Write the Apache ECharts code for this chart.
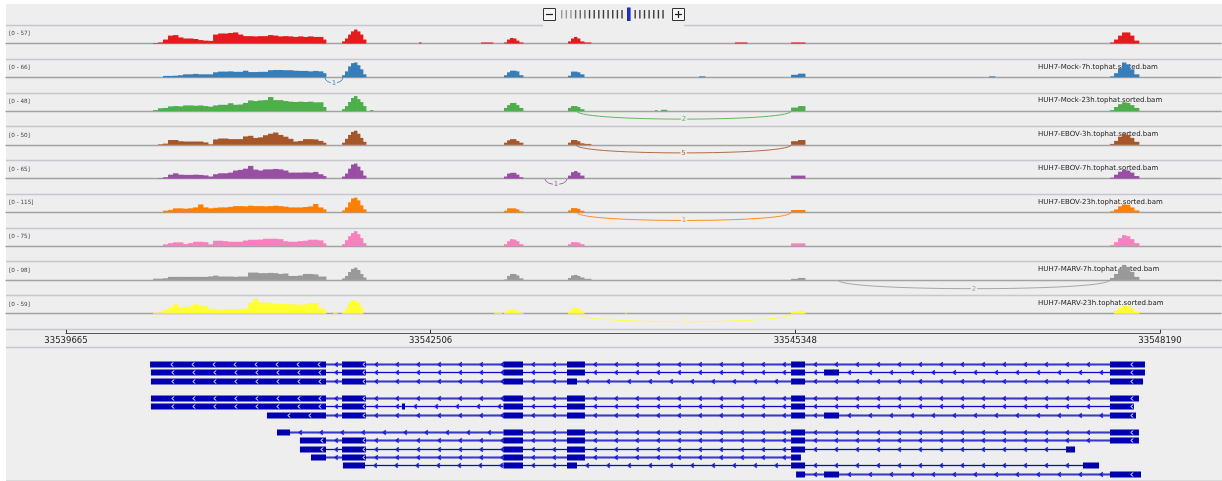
<!DOCTYPE html>
<html><head><meta charset="utf-8">
<script src="https://cdn.jsdelivr.net/npm/echarts@6/dist/echarts.min.js"></script>
<style>html,body{margin:0;padding:0;background:#fff}#c{width:1222px;height:481px}</style>
</head><body><div id="c"></div>
<script>
// ---------------- data ----------------
const axisTicks = [33539665, 33542506, 33545348, 33548190];
const trackNames = ['', 'HUH7-Mock-7h.tophat.sorted.bam', 'HUH7-Mock-23h.tophat.sorted.bam',
  'HUH7-EBOV-3h.tophat.sorted.bam', 'HUH7-EBOV-7h.tophat.sorted.bam', 'HUH7-EBOV-23h.tophat.sorted.bam',
  '', 'HUH7-MARV-7h.tophat.sorted.bam', 'HUH7-MARV-23h.tophat.sorted.bam'];
const trackMax = [57, 66, 48, 50, 65, 115, 75, 98, 59];
const trackColors = ['#e41a1c', '#377eb8', '#4daf4a', '#a65628', '#984ea3', '#ff7f00', '#f781bf', '#999999', '#ffff33'];

// coverage breakpoints (genomic position where each value starts)
const covPos = [
  33540343, 33540382, 33540421, 33540460, 33540499, 33540538, 33540577, 33540616, 33540655, 33540694,
  33540733, 33540772, 33540811, 33540850, 33540888, 33540927, 33540966, 33541005, 33541044, 33541083,
  33541122, 33541161, 33541200, 33541239, 33541278, 33541317, 33541356, 33541395, 33541434, 33541473,
  33541512, 33541551, 33541590, 33541629, 33541668, 33541691,
  33541816, 33541839, 33541863, 33541886, 33541909, 33541933, 33541956, 33541979, 33542003,
  33543078, 33543102, 33543125, 33543148, 33543172, 33543195, 33543226,
  33543577, 33543600, 33543624, 33543647, 33543670, 33543702, 33543756,
  33545315, 33545369, 33545424,
  33547800, 33547832, 33547863, 33547894, 33547925, 33547956, 33547987, 33548026
];
const covMock3h = [
  2,4,15,30,32,23,19,19,17,13, 11,10,34,38,38,40,42,34,28,28, 27,28,28,32,30,27,28,27,25,27, 25,27,25,25,15,0,
  8,19,34,46,53,46,34,15,0,  4,15,21,19,11,4,0,  8,19,25,19,8,4,0,  4,4,0,  4,15,30,42,42,30,11,0];
const covMock7h = [
  0,0,6,6,7,9,13,13,15,13, 13,13,22,25,25,26,24,24,29,23, 23,24,24,31,32,32,31,31,29,28, 28,26,28,26,18,0,
  9,26,48,62,65,53,35,13,0,  9,22,29,29,26,9,0,  7,25,25,22,13,0,0,  11,16,0,  4,18,40,65,57,35,13,0];
const covMock23h = [
  3,9,10,15,16,15,18,18,17,18, 16,14,18,20,20,25,20,21,26,34, 32,34,35,45,35,35,32,30,29,30, 29,30,28,28,13,0,
  6,16,29,42,48,38,29,16,0,  10,19,26,26,19,10,0,  10,16,16,13,6,0,0,  11,16,0,  3,13,22,28,26,19,10,0];
const covEbov3h = [
  0,2,4,16,16,12,11,11,11,11, 8,2,18,21,21,19,19,19,28,30, 23,25,32,37,41,33,27,20,11,13, 19,19,18,13,7,0,
  7,20,33,43,47,37,23,10,0,  7,15,19,19,13,7,0,  7,16,16,12,5,3,0,  12,16,0,  3,13,27,38,33,23,10,0];
const covEbov7h = [
  0,2,6,17,23,17,16,16,17,16, 14,9,19,23,23,26,35,38,43,55, 39,35,40,40,42,40,35,26,26,26, 27,26,29,19,11,0,
  9,22,43,61,65,52,35,13,0,  9,22,25,25,17,6,0,  13,28,33,26,13,0,0,  13,13,0,  4,17,30,38,35,26,11,0];
const covEbov23h = [
  0,0,13,19,31,31,28,31,38,61, 38,31,35,38,38,42,48,48,46,51, 48,48,46,48,51,48,44,38,38,38, 41,46,64,38,23,0,
  15,38,77,107,113,92,54,23,0,  12,31,31,31,23,8,0,  15,33,33,27,12,0,0,  18,18,0,  8,23,46,61,58,38,15,0];
const covMarv3h = [
  0,0,9,15,19,19,10,15,22,22, 20,9,27,27,25,22,22,22,28,32, 32,33,37,37,37,35,25,22,22,25, 27,32,32,29,14,0,
  10,30,50,65,75,60,40,15,0,  10,25,35,33,25,10,0,  10,20,20,18,10,0,0,  14,14,0,  5,20,40,55,50,35,15,0];
const covMarv7h = [
  8,8,11,20,20,20,20,20,20,20, 20,23,28,22,22,22,20,22,22,48, 48,44,44,46,44,39,42,26,26,29, 39,39,36,22,22,0,
  10,26,52,72,80,65,39,16,0,  3,26,39,39,29,10,0,  13,29,33,26,16,7,0,  7,13,0,  13,39,72,98,85,52,20,0];
const covMarv23h = [
  4,5,16,24,37,24,26,29,37,33, 29,17,18,15,18,18,18,18,20,44, 58,44,44,43,39,39,39,37,37,35, 37,42,42,21,16,0,
  8,20,43,54,51,43,24,0,0,  6,16,16,16,12,4,0,  8,20,24,20,10,0,0,  8,11,0,  0,12,24,31,29,20,8,0];

// small isolated coverage pieces [start, end, value]
const extraMock3h = [[33542416, 33542432, 4], [33542899, 33542992, 4], [33544878, 33544972, 4]];
const extraMock7h = [[33544598, 33544644, 4], [33546858, 33546904, 4]];
const extraMock23h = [[33542034, 33542057, 3], [33544255, 33544271, 3], [33544302, 33544348, 4]];
const extraMarv23h = [[33541746, 33541777, 4], [33543000, 33543063, 4], [33544021, 33544029, 4]];

// splice junctions [trackIndex, start, end, readCount]
const junctions = [
  [1, 33541683, 33541823, 1],
  [2, 33543647, 33545315, 2],
  [3, 33543640, 33545315, 5],
  [4, 33543398, 33543569, 1],
  [5, 33543647, 33545315, 1],
  [7, 33545681, 33547800, 2],
  [8, 33543647, 33545315, 3]
];

// gene model transcripts
const transcriptSlots = [0, 1, 2, 4, 5, 6, 8, 9, 10, 11, 12, 13];
const transcriptExons = [
  [[33540320,33541691],[33541816,33542003],[33543074,33543226],[33543569,33543709],[33545315,33545424],[33547800,33548073]],
  [[33540327,33541691],[33541816,33542003],[33543074,33543226],[33543569,33543709],[33545315,33545424],[33545572,33545689],[33547800,33548073]],
  [[33540327,33541691],[33541816,33542003],[33543074,33543226],[33543569,33543647],[33545315,33545424],[33547800,33548058]],
  [[33540327,33541691],[33541816,33542003],[33543074,33543226],[33543569,33543709],[33545315,33545424],[33547800,33548026]],
  [[33540327,33541691],[33541816,33542003],[33542283,33542307],[33543074,33543226],[33543569,33543709],[33545315,33545424],[33547800,33547987]],
  [[33541231,33541691],[33541816,33542003],[33543074,33543226],[33543569,33543709],[33545315,33545424],[33545572,33545689],[33547800,33548003]],
  [[33541309,33541411],[33543074,33543226],[33543569,33543709],[33545315,33545424],[33547800,33548026]],
  [[33541488,33541691],[33541816,33542003],[33543074,33543226],[33543569,33543709],[33545315,33545424],[33547800,33548026]],
  [[33541488,33541691],[33541816,33542003],[33543074,33543226],[33543569,33543709],[33545315,33545424],[33547458,33547528]],
  [[33541574,33541691],[33541816,33542003],[33543074,33543226],[33543569,33543709],[33545315,33545392]],
  [[33541823,33541995],[33543074,33543226],[33543569,33543647],[33545315,33545424],[33547590,33547715]],
  [[33545354,33545424],[33545572,33545689],[33547800,33548042]]
];
// style: which transcripts get the wide translucent intron line
const intronHalo = [1, 0, 1, 1, 0, 1, 1, 1, 0, 1, 0, 1];

// ---------------- layout ----------------
const FONT = 'DejaVu Sans';
const PANEL_L = 6, PANEL_R = 1, W = 1222;
const tickPxFirst = 66, tickPxLast = 1160;
const bpPerPx = (axisTicks[3] - axisTicks[0]) / (tickPxLast - tickPxFirst);
const XMIN = axisTicks[0] - (tickPxFirst - PANEL_L) * bpPerPx;
const XMAX = XMIN + (W - PANEL_L - PANEL_R) * bpPerPx;
const BASE0 = 43.5, STEP = 33.775, TRACK_H = 15;
const baseY = i => BASE0 + STEP * i;

const covArrays = [covMock3h, covMock7h, covMock23h, covEbov3h, covEbov7h, covEbov23h, covMarv3h, covMarv7h, covMarv23h];
const extraArrays = [extraMock3h, extraMock7h, extraMock23h, [], [], [], [], [], extraMarv23h];

// coverage bins [start, end, value]: each value holds from its breakpoint to the next one
function trackBins(i) {
  const bins = [];
  for (let k = 0; k < covPos.length - 1; k++) {
    const v = covArrays[i][k];
    if (v > 0) bins.push([covPos[k], covPos[k + 1], v]);
  }
  extraArrays[i].forEach(b => bins.push(b.slice()));
  return bins;
}

const grids = [], xAxes = [], yAxes = [], series = [];
for (let i = 0; i < 9; i++) {
  const color = trackColors[i];
  grids.push({ left: PANEL_L, right: PANEL_R, top: baseY(i) - TRACK_H, height: TRACK_H });
  xAxes.push({ type: 'value', gridIndex: i, min: XMIN, max: XMAX,
    axisLine: { show: true, onZero: false, lineStyle: { color: '#a2a2a2', width: 1.4 } },
    axisTick: { show: false }, axisLabel: { show: false }, splitLine: { show: false } });
  yAxes.push({ type: 'value', gridIndex: i, min: 0, max: trackMax[i], show: false });
  series.push({
    type: 'custom', xAxisIndex: i, yAxisIndex: i, silent: true, z: 3,
    data: trackBins(i), encode: { x: [0, 1], y: 2 },
    renderItem: (params, api) => {
      const p0 = api.coord([api.value(0), api.value(2)]);
      const p1 = api.coord([api.value(1), 0]);
      return { type: 'rect', shape: { x: p0[0], y: p0[1], width: p1[0] - p0[0] + 0.4, height: p1[1] - p0[1] },
        style: { fill: color } };
    }
  });
  series.push({
    type: 'custom', xAxisIndex: i, yAxisIndex: i, silent: true, z: 4, clip: false,
    data: junctions.filter(j => j[0] === i).map(j => [j[1], j[2], j[3]]),
    encode: { x: [0, 1] },
    renderItem: (params, api) => {
      const s = api.value(0), e = api.value(1), n = api.value(2);
      const p1 = api.coord([s, 0]), p2 = api.coord([e, 0]);
      const w = p2[0] - p1[0];
      const depth = Math.min(9, 5 + w * 0.012);
      const y0 = p1[1] + 0.5;
      const k = depth / 0.75;
      return { type: 'group', children: [
        { type: 'bezierCurve',
          shape: { x1: p1[0], y1: y0, x2: p2[0], y2: y0, cpx1: p1[0] + w * 0.03, cpy1: y0 + k, cpx2: p2[0] - w * 0.03, cpy2: y0 + k },
          style: { stroke: color, lineWidth: 1, fill: null, opacity: 0.85 } },
        { type: 'text', x: (p1[0] + p2[0]) / 2, y: y0 + depth,
          style: { text: String(n), fill: color, opacity: 0.9, fontSize: 7, fontFamily: FONT, align: 'center', verticalAlign: 'middle',
            backgroundColor: '#eeeeee', padding: [0, 1] } }
      ]};
    }
  });
}

// genomic axis (grid 9)
grids.push({ left: tickPxFirst, right: W - tickPxLast, top: 323, height: 10.3 });
xAxes.push({ type: 'value', gridIndex: 9, min: axisTicks[0], max: axisTicks[3], position: 'bottom',
  axisLine: { show: true, onZero: false, lineStyle: { color: '#555', width: 1.2 } },
  axisTick: { show: true, inside: true, length: 3.5, customValues: axisTicks, lineStyle: { color: '#333', width: 1 } },
  axisLabel: { show: true, customValues: axisTicks, formatter: v => String(v), fontSize: 8.5, fontFamily: FONT, color: '#222', margin: 3 },
  splitLine: { show: false } });
yAxes.push({ type: 'value', gridIndex: 9, min: 0, max: 1, show: false });

// gene models (grid 10)
const ROW_H = 8.45;
grids.push({ left: PANEL_L, right: PANEL_R, top: 364 - 0.5 * ROW_H, height: 14 * ROW_H });
xAxes.push({ type: 'value', gridIndex: 10, min: XMIN, max: XMAX, show: false });
yAxes.push({ type: 'value', gridIndex: 10, min: -0.5, max: 13.5, inverse: true, show: false });

function chevron(x, y, color, lw) {
  return { type: 'polyline', shape: { points: [[x + 1.3, y - 2], [x - 1.2, y], [x + 1.3, y + 2]] },
    style: { stroke: color, lineWidth: lw, fill: null } };
}
function hline(a, b, y, lw, color) {
  return { type: 'line', shape: { x1: a, y1: y, x2: b, y2: y }, style: { stroke: color, lineWidth: lw } };
}
series.push({
  type: 'custom', xAxisIndex: 10, yAxisIndex: 10, silent: true, z: 3,
  data: transcriptSlots.map((s, i) => [i, transcriptExons[i][0][0], s]),
  encode: { x: 1, y: 2 },
  renderItem: (params, api) => {
    const idx = api.value(0);
    const slot = transcriptSlots[idx], exons = transcriptExons[idx], halo = intronHalo[idx];
    const yc = Math.round(api.coord([exons[0][0], slot])[1]) + 0.5;
    const px = exons.map(e => [api.coord([e[0], slot])[0], api.coord([e[1], slot])[0]]);
    const ch = [];
    for (let k = 0; k < px.length - 1; k++) {
      const a = px[k][1], b = px[k + 1][0];
      ch.push(hline(a, b, yc, 3, halo ? 'rgba(40,40,195,0.5)' : 'rgba(0,0,200,0.13)'));
      ch.push(hline(a, b, yc, 1, halo ? '#3a3ac6' : '#0c0cc8'));
      for (let x = a + 10.5; x < b - 0.5; x += 21) {
        ch.push(chevron(x, yc, 'rgba(40,40,220,0.35)', 2.4));
        ch.push(chevron(x, yc, '#1515d2', 1.1));
      }
    }
    px.forEach(([a, b]) => {
      ch.push({ type: 'rect', shape: { x: a, y: yc - 3, width: Math.max(1, b - a), height: 6 }, style: { fill: '#0000b0' } });
      for (let x = a + 22; x < b - 1.5; x += 21) ch.push(chevron(x, yc, '#ffffff', 1));
    });
    return { type: 'group', children: ch };
  }
});

// ---------------- decorations (layout only) ----------------
const graphics = [
  { type: 'rect', shape: { x: 0, y: 0, width: W, height: 4 }, style: { fill: '#ffffff' }, z: -5 },
  { type: 'rect', shape: { x: 0, y: 0, width: PANEL_L, height: 481 }, style: { fill: '#ffffff' }, z: -5 }
];
const sepColor = '#c7c7d1';
for (let i = 0; i < 9; i++) {
  const y = Math.round(baseY(i) - 18.5) + 0.5;
  if (i === 0) {
    graphics.push({ type: 'line', shape: { x1: PANEL_L, y1: y, x2: 543, y2: y }, style: { stroke: sepColor, lineWidth: 1.3 } });
    graphics.push({ type: 'line', shape: { x1: 684, y1: y, x2: W, y2: y }, style: { stroke: sepColor, lineWidth: 1.3 } });
  } else {
    graphics.push({ type: 'line', shape: { x1: PANEL_L, y1: y, x2: W, y2: y }, style: { stroke: sepColor, lineWidth: 1.3 } });
  }
  graphics.push({ type: 'text', x: 9, y: baseY(i) - 9.5,
    style: { text: '[0 - ' + trackMax[i] + ']', fontSize: 5.7, fontFamily: FONT, fill: '#444', verticalAlign: 'middle' } });
  if (trackNames[i]) graphics.push({ type: 'text', x: 1038, y: baseY(i) - 10.5,
    style: { text: trackNames[i], fontSize: 7, fontFamily: FONT, fill: '#222', verticalAlign: 'middle' } });
}
[329.5, 347.5].forEach(y => graphics.push({ type: 'line', shape: { x1: PANEL_L, y1: y, x2: W, y2: y }, style: { stroke: sepColor, lineWidth: 1.3 } }));
graphics.push({ type: 'line', shape: { x1: PANEL_L, y1: 480.5, x2: W, y2: 480.5 }, style: { stroke: '#dadada', lineWidth: 1 } });

// zoom widget
graphics.push({ type: 'rect', shape: { x: 543.5, y: 8.5, width: 12, height: 12 }, style: { fill: '#f7f7f7', stroke: '#333', lineWidth: 1 } });
graphics.push({ type: 'line', shape: { x1: 546, y1: 14.5, x2: 553, y2: 14.5 }, style: { stroke: '#222', lineWidth: 1.2 } });
graphics.push({ type: 'rect', shape: { x: 672.5, y: 8.5, width: 12, height: 12 }, style: { fill: '#f7f7f7', stroke: '#333', lineWidth: 1 } });
graphics.push({ type: 'line', shape: { x1: 675, y1: 14.5, x2: 682, y2: 14.5 }, style: { stroke: '#222', lineWidth: 1.2 } });
graphics.push({ type: 'line', shape: { x1: 678.5, y1: 11, x2: 678.5, y2: 18 }, style: { stroke: '#222', lineWidth: 1.2 } });
for (let k = 0; k < 14; k++) {
  const x = 561 + 4.64 * k;
  graphics.push({ type: 'rect', shape: { x: x, y: 10, width: 1.4, height: 8.5 }, style: { fill: k < 3 ? '#999' : (k < 6 ? '#666' : '#3a3a3a') } });
}
for (let k = 0; k < 7; k++) {
  const x = 634.5 + 4.64 * k;
  graphics.push({ type: 'rect', shape: { x: x, y: 10, width: 1.4, height: 8.5 }, style: { fill: '#3a3a3a' } });
}
graphics.push({ type: 'rect', shape: { x: 627, y: 7.5, width: 3.6, height: 13.5 }, style: { fill: '#1f2fb5' } });

const chart = echarts.init(document.getElementById('c'), null, { renderer: 'canvas' });
chart.setOption({
  animation: false,
  backgroundColor: '#eeeeee',
  grid: grids, xAxis: xAxes, yAxis: yAxes, series: series,
  graphic: { elements: graphics }
});
</script>
</body></html>
